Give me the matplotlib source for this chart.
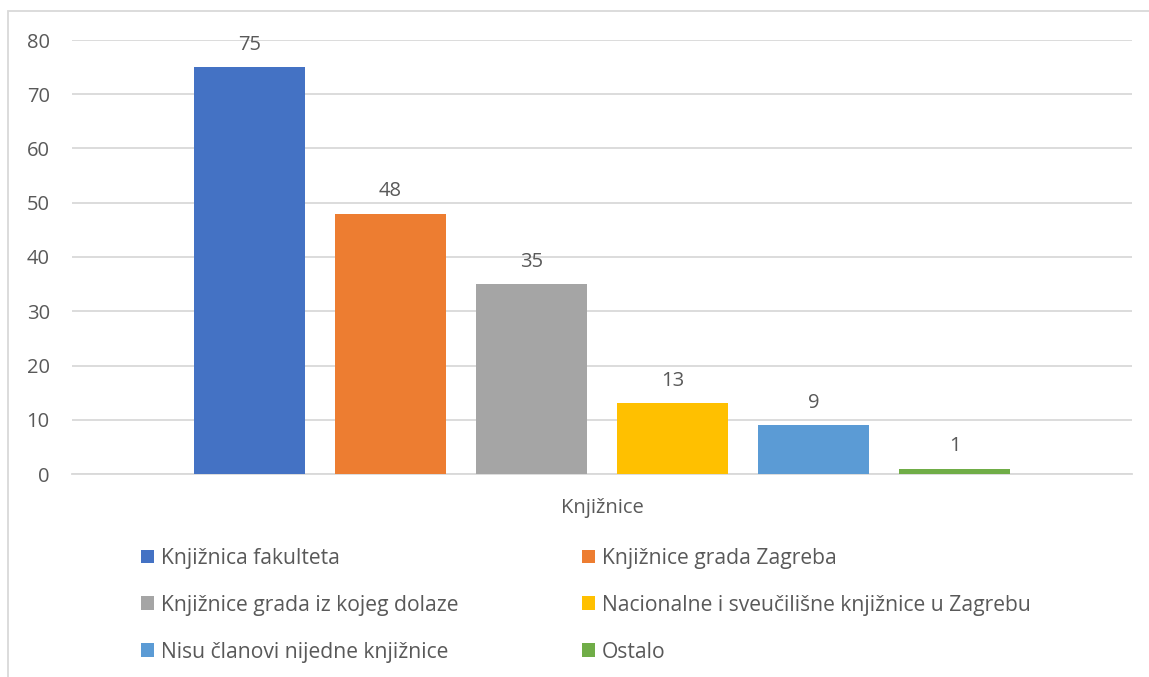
import matplotlib
matplotlib.use("Agg")
import matplotlib.pyplot as plt
from matplotlib.patches import Rectangle

categories = ["Knjižnice"]
series_names = ["Knjižnica fakulteta", "Knjižnice grada Zagreba",
                "Knjižnice grada iz kojeg dolaze",
                "Nacionalne i sveučilišne knjižnice u Zagrebu",
                "Nisu članovi nijedne knjižnice", "Ostalo"]
values = [75, 48, 35, 13, 9, 1]
colors = ["#4472C4", "#ED7D31", "#A5A5A5", "#FFC000", "#5B9BD5", "#70AD47"]
yticks = [0, 10, 20, 30, 40, 50, 60, 70, 80]

plt.rcParams['font.family'] = ['Open Sans', 'DejaVu Sans']
txt = "#595959"
grid = "#D9D9D9"
fs = 14.5
lfs = 15.2

W, H = 1149, 677
fig = plt.figure(figsize=(W/100, H/100), dpi=100)
# chart border
fig.patches.append(Rectangle((8/W, -0.1), 1.2, 1 - 11/H + 0.1, transform=fig.transFigure,
                             fill=False, edgecolor="#D9D9D9", linewidth=1.3))

ax = fig.add_axes([72/W, 1 - 474/H, (1132-72)/W, (474-40)/H])
n = len(values)
step = 141/1060
width = 111/1060
bars = []
for i, (name, v, c) in enumerate(zip(series_names, values, colors)):
    x = (i - (n-1)/2) * step
    b = ax.bar(x, v, width=width, color=c, label=name, zorder=3)
    bars.append(b)
    ax.text(x, v + 2.3, str(v), ha="center", va="bottom", fontsize=fs, color=txt)

ax.set_xlim(-0.5, 0.5)
ax.set_ylim(0, 80)
ax.set_yticks(yticks)
ax.set_xticks([0])
ax.set_xticklabels(categories)
ax.tick_params(axis="x", length=0, pad=17, labelsize=fs, labelcolor=txt)
ax.tick_params(axis="y", length=0, pad=16, labelsize=fs, labelcolor=txt)
for s in ["top", "right", "left"]:
    ax.spines[s].set_visible(False)
ax.spines["bottom"].set_color(grid)
ax.spines["bottom"].set_linewidth(1.3)
ax.yaxis.grid(True, color=grid, linewidth=1.3, zorder=0)
ax.set_axisbelow(True)

order = [0, 2, 4, 1, 3, 5]
fig.legend(handles=[bars[k] for k in order], labels=[series_names[k] for k in order],
           ncol=2, loc="upper left", bbox_to_anchor=(141/W, 1 - 548/H),
           frameon=False, fontsize=lfs, labelcolor=txt,
           handlelength=0.62, handleheight=0.62, handletextpad=0.33,
           columnspacing=5.85, labelspacing=1.22, borderaxespad=0, borderpad=0)

fig.savefig("out.png", dpi=100)
